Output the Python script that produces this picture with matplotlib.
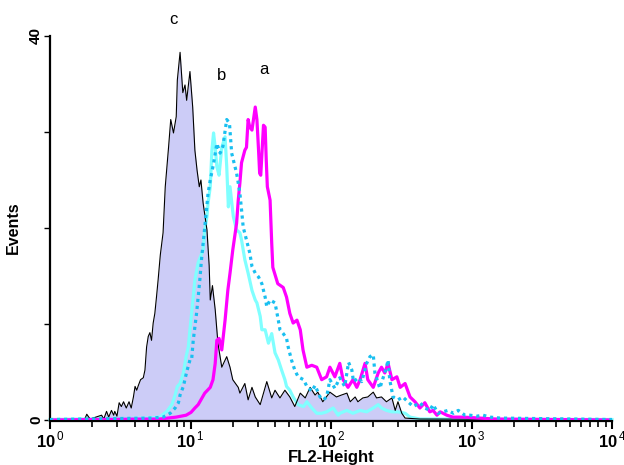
import numpy as np
import matplotlib
matplotlib.use("Agg")
import matplotlib.pyplot as plt
from matplotlib.ticker import FixedLocator, LogLocator, NullFormatter

plt.rcParams['font.family'] = ['Liberation Sans', 'DejaVu Sans']
plt.rcParams['mathtext.fontset'] = 'custom'
plt.rcParams['mathtext.rm'] = 'Liberation Sans'
plt.rcParams['mathtext.bf'] = 'Liberation Sans:bold'

# Channels: 1024 channels spanning 4 decades (256 channels per decade)
CH_PER_DECADE = 256

# Curve c: control (black outline, lavender fill)
c_ch = [0, 63, 67, 73, 94, 98, 103, 107, 112, 116, 118, 122, 126, 130, 134, 139, 144, 148, 152, 155, 158,
        161, 165, 170, 173, 176, 179, 182, 185, 188, 191, 194, 197, 201, 206, 210, 216, 220, 225, 230,
        232, 237, 242, 246, 249, 255, 260, 264, 268, 272, 275, 279, 286, 290, 292, 296, 301, 306, 313,
        317, 322, 328, 333, 343, 346, 355, 361, 368, 374, 383, 388, 395, 404, 410, 419, 428, 437, 446,
        456, 465, 474, 483, 488, 497, 510, 522, 531, 541, 547, 556, 561, 570, 579, 589, 595, 604, 613,
        623, 629, 634, 641, 647, 674, 1024]
c_cnt = [0.05, 0.05, 0.6, 0.1, 0.5, 0.1, 0.9, 0.3, 1.0, 0.5, 0.9, 0.4, 1.8, 1.4, 1.9, 1.25, 1.9, 1.25, 2.4, 3.5, 3.1,
         3.6, 4.2, 4.4, 5.2, 7.6, 8.7, 9.1, 8.3, 10.1, 11.1, 12.8, 14.6, 17.2, 19.5, 24.3, 28.4, 31.3, 29.9, 31.6,
         35.4, 38.3, 34.1, 34.9, 33.3, 36.3, 32.6, 28.1, 26.0, 24.3, 25.0, 22.6, 19.8, 16.1, 12.5, 14.0, 11.5, 8.0, 5.5,
         6.0, 6.6, 5.5, 4.2, 3.4, 2.8, 3.8, 2.1, 3.4, 2.4, 1.6, 2.6, 4.0, 2.3, 3.1, 2.3, 3.1, 2.4, 1.4,
         2.8, 2.3, 3.4, 2.6, 2.9, 1.9, 2.9, 2.4, 2.6, 2.8, 1.9, 2.4, 1.9, 2.3, 2.4, 2.9, 2.3, 2.4, 1.9,
         2.3, 1.0, 1.9, 0.7, 0.2, 0.1, 0.05]

# Curve a: magenta
a_ch = [0, 160, 200, 230, 248, 257, 264, 270, 275, 282, 292, 297, 301, 304, 308, 313, 319, 324, 328, 333,
        340, 343, 346, 349, 355, 358, 361, 364, 368, 374, 377, 380, 382, 384, 389, 392, 394, 396, 401, 404,
        406, 415, 425, 431, 437, 443, 450, 456, 461, 468, 477, 486, 495, 504, 510, 519, 528, 534, 543, 552,
        559, 565, 574, 579, 589, 598, 604, 610, 616, 623, 632, 638, 647, 656, 665, 674, 683, 692, 698, 705,
        711, 723, 734, 753, 783, 811, 1024]
a_cnt = [0.0, 0.1, 0.1, 0.3, 0.5, 0.8, 1.25, 1.6, 2.1, 2.8, 3.4, 4.2, 5.9, 8.3, 8.5, 7.3, 10.4, 13.5, 15.3, 17.7,
         20.5, 22.9, 24.7, 26.8, 28.1, 28.4, 31.3, 30.5, 30.2, 32.6, 31.3, 28.1, 25.7, 25.5, 30.7, 30.5, 27.1, 24.3, 22.9, 18.4,
         15.9, 14.2, 13.8, 12.8, 11.1, 10.1, 10.4, 9.4, 7.3, 5.5, 5.7, 5.5, 4.2, 4.5, 5.5, 4.5, 5.9, 4.2, 3.4, 4.2,
         3.4, 4.2, 5.9, 4.2, 3.4, 4.9, 5.5, 4.9, 5.9, 4.2, 4.5, 3.4, 3.8, 2.4, 1.9, 1.25, 1.8, 0.85, 1.0, 0.5,
         0.85, 0.5, 0.3, 0.3, 0.2, 0.1, 0.0]

# Curve b (solid, light cyan)
b1_ch = [0, 176, 200, 213, 222, 228, 232, 237, 243, 248, 252, 255, 258, 261, 264, 270, 279, 282, 286, 288,
         292, 295, 298, 301, 304, 308, 313, 319, 322, 325, 328, 334, 340, 346, 349, 355, 361, 368, 374, 377,
         383, 386, 392, 398, 404, 410, 416, 422, 428, 431, 437, 443, 452, 462, 468, 477, 486, 495, 504, 516,
         525, 528, 541, 552, 565, 577, 589, 598, 604, 613, 623, 634, 647, 656, 674, 1024]
b1_cnt = [0.05, 0.2, 0.3, 0.9, 1.6, 2.6, 3.5, 3.8, 4.9, 6.6, 7.6, 9.4, 11.1, 12.8, 14.6, 16.4, 17.7, 19.8, 21.2, 22.6,
          24.3, 28.1, 29.9, 28.4, 26.4, 25.5, 28.4, 29.5, 26.4, 22.2, 24.3, 21.2, 19.8, 19.5, 18.75, 16.7, 15.3, 13.5, 12.5, 12.2,
          10.8, 9.4, 9.4, 8.0, 9.0, 7.0, 6.25, 5.2, 4.2, 3.5, 3.1, 2.4, 1.6, 1.4, 1.9, 1.25, 0.7, 0.7, 0.85, 1.25,
          0.5, 0.7, 1.0, 0.7, 1.0, 0.85, 1.25, 1.6, 1.25, 1.0, 0.85, 0.85, 0.7, 0.3, 0.1, 0.05]

# Curve b (dotted, sky blue)
b2_ch = [0, 185, 206, 219, 228, 234, 237, 243, 249, 255, 258, 261, 264, 267, 270, 273, 276, 282, 288, 292,
         298, 304, 310, 315, 322, 327, 331, 340, 343, 346, 349, 352, 358, 364, 368, 374, 380, 386, 392, 395,
         401, 410, 416, 419, 425, 431, 434, 440, 446, 452, 462, 468, 477, 483, 492, 498, 504, 510, 519, 528,
         537, 544, 550, 553, 562, 568, 577, 583, 589, 592, 601, 613, 616, 619, 625, 634, 643, 652, 662, 674,
         683, 692, 698, 707, 716, 725, 735, 744, 756, 765, 778, 789, 802, 820, 1024]
b2_cnt = [0.05, 0.2, 0.3, 0.7, 1.25, 1.8, 2.6, 3.5, 5.0, 6.25, 6.25, 8.3, 9.7, 11.1, 12.8, 14.6, 16.7, 20.1, 23.6, 25.0,
          26.7, 28.8, 27.8, 28.5, 31.3, 30.9, 27.8, 25.7, 24.7, 23.6, 21.9, 20.1, 18.75, 17.4, 16.0, 15.3, 14.9, 14.2, 12.8, 11.8,
          12.5, 12.2, 10.4, 9.4, 9.0, 8.5, 7.6, 6.25, 5.2, 4.5, 4.2, 3.5, 3.0, 3.6, 2.4, 2.1, 2.4, 4.2, 3.3, 4.4,
          3.5, 6.0, 5.2, 4.0, 4.4, 4.0, 5.9, 6.6, 6.8, 4.9, 3.3, 5.5, 6.25, 4.2, 2.4, 2.1, 2.4, 1.9, 1.4, 1.8,
          1.25, 1.0, 1.6, 0.7, 0.85, 1.0, 0.7, 1.0, 0.5, 0.5, 0.4, 0.5, 0.3, 0.2, 0.05]

y_ticks = [0, 10, 20, 30, 40]
y_tick_labels = ['0', '', '', '', '40']
x_ticks = [1, 10, 100, 1000, 10000]
x_tick_labels = [r'$\mathbf{10}^{\,\mathrm{0}}$', r'$\mathbf{10}^{\,\mathrm{1}}$', r'$\mathbf{10}^{\,\mathrm{2}}$',
                 r'$\mathbf{10}^{\,\mathrm{3}}$', r'$\mathbf{10}^{\,\mathrm{4}}$']
peak_labels = ['c', 'b', 'a']


def to_fl2(ch):
    return 10 ** (np.asarray(ch, dtype=float) / CH_PER_DECADE)


fig = plt.figure(figsize=(6.24, 4.65), dpi=100)
ax = fig.add_axes([50 / 624, 45 / 465, 562 / 624, 384 / 465])

cx = to_fl2(c_ch)
ax.fill_between(cx, 0, c_cnt, color='#ccccf7', lw=0, zorder=1)
ax.plot(cx, c_cnt, color='black', lw=0.8, zorder=3)
ax.plot(to_fl2(b1_ch), b1_cnt, color='#80ffff', lw=2.3, zorder=2, clip_on=False)
ax.plot(to_fl2(a_ch), a_cnt, color='#ff00ff', lw=2.3, zorder=4)
ax.plot(to_fl2(b2_ch), b2_cnt, color='#19bff0', lw=2.3, ls=(0, (1, 1.2)), zorder=5)

ax.set_xscale('log')
ax.set_xlim(1, 10000)
ax.set_ylim(0, 40)

for sp in ['top', 'right']:
    ax.spines[sp].set_visible(False)
for sp in ['left', 'bottom']:
    ax.spines[sp].set_linewidth(1.6)
ax.spines['bottom'].set_position(('outward', 1))

ax.xaxis.set_major_locator(FixedLocator(x_ticks))
ax.set_xticklabels(x_tick_labels, fontsize=12)
ax.xaxis.set_minor_locator(LogLocator(base=10, subs=np.arange(2, 10)))
ax.xaxis.set_minor_formatter(NullFormatter())
ax.tick_params(axis='x', which='major', length=6, width=1.5, direction='out', pad=0)
ax.tick_params(axis='x', which='minor', length=4, width=1.2, direction='out')

ax.set_yticks(y_ticks)
ax.set_yticklabels(y_tick_labels, fontsize=11, fontweight='bold', rotation=90, va='center')
ax.tick_params(axis='y', length=4, width=1.0, direction='out', pad=1)

ax.set_ylabel('Events', fontsize=11.5, fontweight='bold', labelpad=6)
ax.set_xlabel('FL2-Height', fontsize=12, fontweight='bold', labelpad=0)

label_pos_ch = [224, 312, 389]
label_pos_cnt = [41.7, 35.9, 36.5]
for t, xc, yc in zip(peak_labels, label_pos_ch, label_pos_cnt):
    ax.text(to_fl2(xc), yc, t, fontsize=12, ha='center', va='center', clip_on=False)

fig.savefig('out.png', dpi=100)
